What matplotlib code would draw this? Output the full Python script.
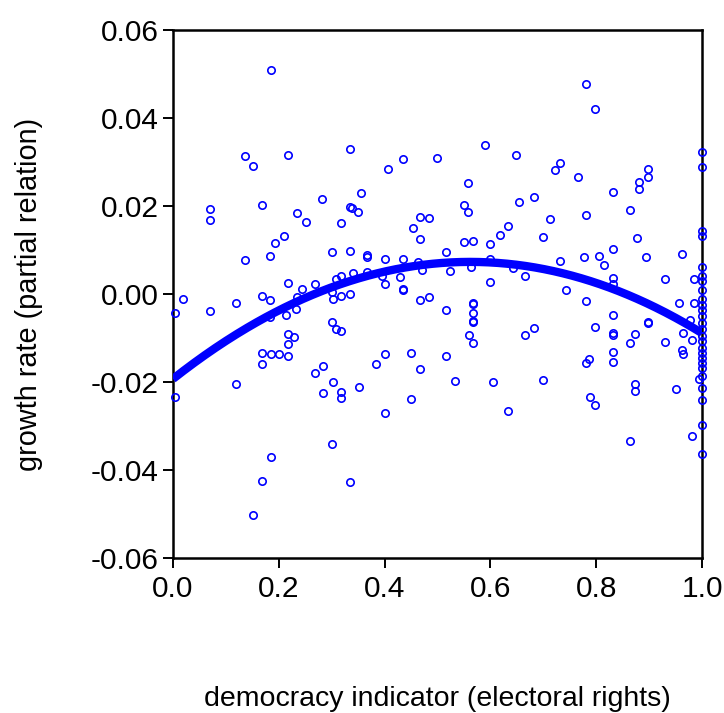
import numpy as np
import matplotlib
matplotlib.use("Agg")
import matplotlib.pyplot as plt

plt.rcParams['font.family'] = ['Liberation Sans', 'DejaVu Sans']

# democracy indicator (electoral rights) for each country
democracy = [
    0.185, 0.136, 0.152, 0.217, 0.334, 0.407, 0.435, 0.499, 0.069, 0.069,
    0.168, 0.234, 0.251, 0.282, 0.356, 0.334, 0.338, 0.350, 0.318, 0.467,
    0.483, 0.454, 0.467, 0.210, 0.193, 0.136, 0.184, 0.301, 0.334, 0.367,
    0.367, 0.401, 0.434, 0.463, 0.470, 0.395, 0.429, 0.401, 0.434, 0.434,
    0.367, 0.340, 0.318, 0.309, 0.268, 0.244, 0.218, 0.234, 0.168, 0.184,
    0.018, 0.335, 0.318, 0.301, 0.467, 0.483,
    0.003, 0.069, 0.119, 0.233, 0.214, 0.183, 0.217, 0.229, 0.218, 0.168,
    0.185, 0.201, 0.218, 0.169, 0.119, 0.003, 0.302, 0.301, 0.308, 0.318,
    0.284, 0.268, 0.302, 0.284, 0.318, 0.318, 0.351, 0.384, 0.401, 0.450,
    0.467, 0.450, 0.401, 0.301, 0.185, 0.169, 0.334, 0.152,
    0.781, 0.798, 0.589, 0.649, 0.732, 0.722, 0.765, 0.558, 0.898, 0.898,
    0.881, 0.881, 0.831, 1.000, 1.000, 0.682, 0.655, 0.550, 0.558, 0.781,
    0.713, 0.864, 0.633, 0.619, 0.550, 0.567, 0.599, 0.699, 0.877, 0.831,
    0.517, 1.000, 1.000, 0.963, 0.895, 0.732, 0.777, 0.805, 0.815, 0.599,
    0.563, 0.524, 0.643, 0.665, 0.599, 0.742, 0.831, 0.831, 0.931, 0.985,
    0.517, 0.567, 0.567, 0.567, 0.567, 0.567, 0.560, 0.567, 0.517, 0.533,
    0.604, 0.633, 0.666, 0.682, 0.699, 0.781, 0.831, 0.798, 0.831, 0.831,
    0.831, 0.831, 0.786, 0.781, 0.788, 0.798, 0.874, 0.864, 0.898, 0.898,
    0.931, 0.874, 0.873, 0.864, 0.950, 0.957, 0.985, 0.977, 0.965, 0.981,
    0.962, 0.965, 0.981, 0.994,
    1.000, 1.000, 1.000, 1.000, 1.000, 1.000, 1.000, 1.000, 1.000, 1.000,
    1.000, 1.000, 1.000, 1.000, 1.000, 1.000, 1.000, 1.000, 1.000, 1.000,
    1.000, 1.000,
]

# growth rate, partial relation (other regressors held fixed)
growth = [
    0.0510, 0.0314, 0.0292, 0.0317, 0.0329, 0.0283, 0.0306, 0.0308, 0.0193, 0.0168,
    0.0202, 0.0183, 0.0163, 0.0216, 0.0230, 0.0197, 0.0196, 0.0187, 0.0161, 0.0176,
    0.0173, 0.0149, 0.0124, 0.0132, 0.0115, 0.0077, 0.0086, 0.0095, 0.0098, 0.0088,
    0.0084, 0.0080, 0.0080, 0.0072, 0.0054, 0.0042, 0.0039, 0.0023, 0.0012, 0.0010,
    0.0051, 0.0048, 0.0042, 0.0033, 0.0022, 0.0011, 0.0025, -0.0006, -0.0004, -0.0013,
    -0.0012, 0.0001, -0.0005, 0.0005, -0.0014, -0.0007,
    -0.0044, -0.0038, -0.0020, -0.0034, -0.0048, -0.0053, -0.0092, -0.0098, -0.0114, -0.0133,
    -0.0136, -0.0137, -0.0142, -0.0158, -0.0204, -0.0235, -0.0012, -0.0063, -0.0080, -0.0083,
    -0.0163, -0.0180, -0.0201, -0.0225, -0.0223, -0.0237, -0.0211, -0.0160, -0.0136, -0.0133,
    -0.0171, -0.0239, -0.0270, -0.0340, -0.0371, -0.0425, -0.0427, -0.0502,
    0.0478, 0.0420, 0.0338, 0.0315, 0.0298, 0.0281, 0.0265, 0.0252, 0.0285, 0.0266,
    0.0255, 0.0239, 0.0232, 0.0322, 0.0289, 0.0221, 0.0208, 0.0202, 0.0187, 0.0180,
    0.0171, 0.0192, 0.0155, 0.0133, 0.0119, 0.0121, 0.0113, 0.0129, 0.0127, 0.0102,
    0.0095, 0.0144, 0.0131, 0.0092, 0.0083, 0.0076, 0.0083, 0.0086, 0.0065, 0.0079,
    0.0061, 0.0052, 0.0058, 0.0042, 0.0027, 0.0010, 0.0036, 0.0022, 0.0033, 0.0033,
    -0.0036, -0.0020, -0.0023, -0.0044, -0.0061, -0.0063, -0.0093, -0.0112, -0.0141, -0.0198,
    -0.0199, -0.0267, -0.0094, -0.0077, -0.0196, -0.0015, -0.0048, -0.0075, -0.0089, -0.0094,
    -0.0131, -0.0155, -0.0148, -0.0157, -0.0234, -0.0252, -0.0092, -0.0111, -0.0064, -0.0066,
    -0.0108, -0.0205, -0.0220, -0.0334, -0.0217, -0.0020, -0.0021, -0.0059, -0.0089, -0.0105,
    -0.0127, -0.0136, -0.0323, -0.0194,
    0.0062, 0.0040, 0.0029, 0.0008, -0.0012, -0.0025, -0.0036, -0.0050, -0.0065, -0.0080,
    -0.0095, -0.0107, -0.0123, -0.0135, -0.0146, -0.0157, -0.0168, -0.0187, -0.0214, -0.0241,
    -0.0298, -0.0364,
]

# quadratic fit of growth on democracy: intercept, linear, squared term
fit_coef = [-0.0193, 0.0947, -0.0843]

x_ticks = [0.0, 0.2, 0.4, 0.6, 0.8, 1.0]
y_ticks = [-0.06, -0.04, -0.02, 0.00, 0.02, 0.04, 0.06]

fig = plt.figure(figsize=(7.24, 7.13), dpi=100)
ax = fig.add_axes([173 / 724, 1 - 558 / 713, 529 / 724, 528 / 713])

blue = (0, 0, 1)
ax.plot(democracy, growth, linestyle='none', marker='o', markersize=5.3,
        markerfacecolor='none', markeredgecolor=blue, markeredgewidth=1.2,
        clip_on=False, zorder=3)

xs = np.sort(np.unique(np.concatenate([np.array(democracy), np.linspace(0, 1, 400)])))
fitted = fit_coef[0] + fit_coef[1] * xs + fit_coef[2] * xs ** 2
ax.plot(xs, fitted, color=blue, linewidth=6.0, solid_capstyle='butt', zorder=4)

ax.set_xlim(0, 1)
ax.set_ylim(-0.06, 0.06)
ax.set_xticks(x_ticks)
ax.set_xticklabels([f"{v:.1f}" for v in x_ticks])
ax.set_yticks(y_ticks)
ax.set_yticklabels([f"{v:.2f}" for v in y_ticks])

for s in ax.spines.values():
    s.set_linewidth(1.8)
    s.set_color('black')

ax.tick_params(axis='both', direction='out', length=7.2, width=1.4,
               labelsize=21.5, colors='black')
ax.tick_params(axis='x', pad=5)
ax.tick_params(axis='y', pad=3)

ax.set_xlabel("democracy indicator (electoral rights)", fontsize=20.5)
ax.xaxis.set_label_coords(0.5, -0.243)
ax.set_ylabel("growth rate (partial relation)", fontsize=20.8)
ax.yaxis.set_label_coords(-0.245, 0.5)

fig.savefig("out.png", dpi=100)
